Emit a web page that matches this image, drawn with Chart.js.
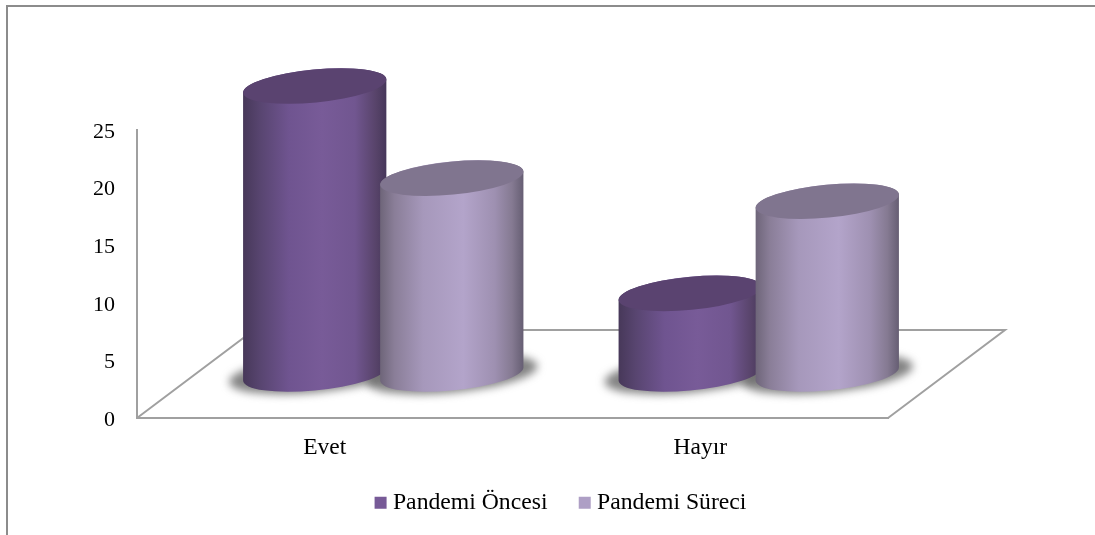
<!DOCTYPE html>
<html lang="tr">
<head>
<meta charset="utf-8">
<title>Pandemi Öncesi / Pandemi Süreci</title>
<script src="https://cdn.jsdelivr.net/npm/chart.js@4/dist/chart.umd.min.js"></script>
<style>
  html, body { margin: 0; padding: 0; background: #fff; overflow: hidden; }
  #frame { position: absolute; left: 6px; top: 5px; right: 0; bottom: 0;
           border-left: 2px solid #8c8c8c; border-top: 2px solid #8c8c8c; }
  #chart { position: absolute; left: 0; top: 0; }
</style>
</head>
<body>
<div id="frame"></div>
<canvas id="chart" width="1095" height="535"></canvas>
<script>
const categories = ['Evet', 'Hayır'];
const pandemiOncesi = [25, 7];
const pandemiSureci = [17, 15];

const serifFont = '"Liberation Serif", "Times New Roman", serif';
const axisColor = '#a0a0a0';

// Floor depth: the back edge sits this far from the front edge
const depthX = 117;
const depthY = -88;

// Cylinder look, one entry per dataset
const cylinderStyles = [
    {
        cap: '#5a4370',
        side: [[0, '#473859'], [0.12, '#584570'], [0.32, '#6f5490'], [0.55, '#785b98'],
               [0.78, '#715690'], [0.93, '#574369'], [1, '#46375a']]
    },
    {
        cap: '#80758f',
        side: [[0, '#6e6579'], [0.1, '#8a7e98'], [0.3, '#a698bb'], [0.58, '#b3a4ca'],
               [0.8, '#9e90b1'], [0.92, '#857a92'], [1, '#665e73']]
    }
];

const tilt = -5.5 * Math.PI / 180;
const capRadiusY = 16.5;

function drawShadow(ctx, cx, cy, rx) {
    ctx.save();
    ctx.filter = 'blur(4px)';
    ctx.fillStyle = 'rgba(100, 100, 100, 0.8)';
    ctx.beginPath();
    ctx.ellipse(cx, cy, rx + 14, capRadiusY + 2, tilt, 0, Math.PI * 2);
    ctx.fill();
    ctx.restore();
}

function drawCylinder(ctx, cx, topY, baseY, rx, style) {
    // Parameter angle where the tilted ellipse has a vertical tangent
    const t0 = Math.atan(-(capRadiusY / rx) * Math.tan(tilt));
    const halfW = Math.sqrt(Math.pow(rx * Math.cos(tilt), 2) + Math.pow(capRadiusY * Math.sin(tilt), 2));

    const gradient = ctx.createLinearGradient(cx - halfW, 0, cx + halfW, 0);
    style.side.forEach(([stop, color]) => gradient.addColorStop(stop, color));

    ctx.fillStyle = gradient;
    ctx.beginPath();
    ctx.ellipse(cx, baseY, rx, capRadiusY, tilt, t0, t0 + Math.PI);
    ctx.ellipse(cx, topY, rx, capRadiusY, tilt, t0 + Math.PI, t0 + Math.PI * 2);
    ctx.closePath();
    ctx.fill();

    ctx.fillStyle = style.cap;
    ctx.beginPath();
    ctx.ellipse(cx, topY, rx, capRadiusY, tilt, 0, Math.PI * 2);
    ctx.fill();
}

const cylinderPlugin = {
    id: 'cylinders',
    afterLayout(chart) {
        // Legend sits off-centre, under the right part of the floor
        chart.legend.left = 0;
        chart.legend.right = 1126.5;
        chart.legend.top = 491 - chart.options.plugins.legend.labels.padding;

        // Value labels sit slightly below their tick position
        chart.scales.y.getLabelItems().forEach(item => {
            item.options.translation[1] += 2;
        });
    },
    beforeDatasetsDraw(chart) {
        const { ctx, chartArea } = chart;
        const { left, right, bottom } = chartArea;

        // Floor outline; the front edge is the x axis border
        ctx.save();
        ctx.strokeStyle = axisColor;
        ctx.lineWidth = 2;
        ctx.beginPath();
        ctx.moveTo(left, bottom);
        ctx.lineTo(left + depthX, bottom + depthY);
        ctx.lineTo(right + depthX, bottom + depthY);
        ctx.lineTo(right, bottom);
        ctx.stroke();
        ctx.restore();

        const metas = chart.data.datasets.map((d, i) => chart.getDatasetMeta(i));

        // Shadows go down first so no cylinder gets covered by one
        metas.forEach(meta => meta.data.forEach(bar => {
            drawShadow(ctx, bar.x + depthX / 2, bar.base + depthY / 2, bar.width * 0.525);
        }));

        // Left to right, the later cylinder overlaps the earlier one
        categories.forEach((name, c) => {
            metas.forEach((meta, s) => {
                const bar = meta.data[c];
                drawCylinder(ctx, bar.x + depthX / 2, bar.y + depthY / 2, bar.base + depthY / 2,
                             bar.width * 0.525, cylinderStyles[s]);
            });
        });
    },
    // Bars are replaced by the cylinders above
    beforeDatasetDraw() {
        return false;
    }
};

const chart = new Chart(document.getElementById('chart').getContext('2d'), {
    type: 'bar',
    data: {
        labels: categories,
        datasets: [
            { label: 'Pandemi Öncesi', data: pandemiOncesi, backgroundColor: '#775a97', barPercentage: 1, categoryPercentage: 0.73 },
            { label: 'Pandemi Süreci', data: pandemiSureci, backgroundColor: '#ae9fc5', barPercentage: 1, categoryPercentage: 0.73 }
        ]
    },
    options: {
        responsive: false,
        animation: false,
        layout: { padding: { top: 130, left: 0, right: 207, bottom: 0 } },
        scales: {
            x: {
                grid: { display: false, drawTicks: false },
                border: { color: axisColor, width: 2 },
                ticks: { color: '#000', font: { family: serifFont, size: 23.5 }, padding: 16, maxRotation: 0 },
                afterFit(scale) { scale.height = 87; }
            },
            y: {
                min: 0,
                max: 25,
                grid: { display: false, drawTicks: false },
                border: { color: axisColor, width: 2 },
                ticks: { stepSize: 5, color: '#000', font: { family: serifFont, size: 22 }, padding: 22 },
                afterFit(scale) { scale.width = 137; }
            }
        },
        plugins: {
            tooltip: { enabled: false },
            legend: {
                position: 'bottom',
                maxHeight: 30,
                labels: {
                    color: '#000',
                    font: { family: serifFont, size: 23.7 },
                    usePointStyle: true,
                    pointStyle: 'rect',
                    boxWidth: 1,
                    boxHeight: 12,
                    padding: 36.7
                }
            }
        }
    },
    plugins: [cylinderPlugin]
});
</script>
</body>
</html>
